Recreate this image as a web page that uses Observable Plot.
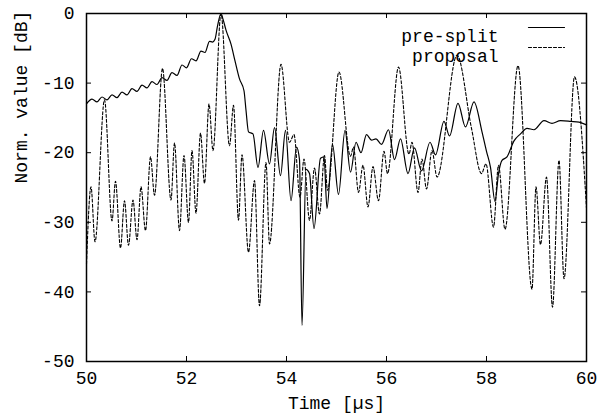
<!DOCTYPE html>
<html>
<head>
<meta charset="utf-8">
<script src="https://cdn.jsdelivr.net/npm/d3@7"></script>
<script src="https://cdn.jsdelivr.net/npm/@observablehq/plot@0.6"></script>
<style>
  html, body { margin: 0; padding: 0; background: #fff; }
  #chart { width: 610px; height: 418px; }
</style>
</head>
<body>
<div id="chart"></div>
<script>
// ---- tick definitions ----
const xTicks = [50, 52, 54, 56, 58, 60];
const xTickLabels = ["50", "52", "54", "56", "58", "60"];
const yTicks = [0, -10, -20, -30, -40, -50];
const yTickLabels = ["0", "-10", "-20", "-30", "-40", "-50"];
const xLabel = "Time [µs]";
const yLabel = "Norm. value [dB]";
const seriesNames = ["pre-split", "proposal"];

// ---- pre-split (solid) ----
const preSplitTime = [
  50.00, 50.11, 50.21, 50.31, 50.41, 50.51, 50.61, 50.71, 50.81, 50.91,
  51.01, 51.11, 51.21, 51.31, 51.41, 51.51, 51.61, 51.71, 51.81, 51.91,
  52.00, 52.10, 52.19, 52.29, 52.37, 52.46, 52.52, 52.57, 52.62, 52.69,
  52.73, 52.79, 52.89, 52.97, 53.06, 53.15, 53.19, 53.24, 53.33, 53.43,
  53.54, 53.66, 53.76, 53.88, 53.98, 54.09, 54.20, 54.26, 54.31, 54.39,
  54.46, 54.55, 54.68, 54.75, 54.81, 54.92, 55.04, 55.17, 55.28, 55.39,
  55.49, 55.60, 55.70, 55.79, 55.90, 56.04, 56.16, 56.28, 56.43, 56.56,
  56.70, 56.87, 56.98, 57.15, 57.26, 57.43, 57.58, 57.75, 57.91, 58.00,
  58.08, 58.17, 58.24, 58.31, 58.41, 58.55, 58.68, 58.81, 58.95, 59.15,
  59.31, 59.48, 59.69, 59.85, 60.00
];
const preSplitValue = [
  -13.0, -12.3, -12.7, -12.0, -12.4, -11.7, -12.1, -11.3, -11.7, -10.8,
  -11.2, -10.3, -10.7, -9.8, -10.2, -9.2, -9.6, -8.5, -8.9, -7.4,
  -7.8, -6.5, -6.8, -5.4, -5.6, -4.0, -4.1, -3.7, -1.8, 0.0,
  -0.8, -2.4, -4.4, -6.8, -9.4, -11.1, -13.9, -17.0, -17.3, -22.1,
  -16.8, -21.6, -16.4, -23.3, -16.8, -26.9, -19.2, -21.0, -44.8, -22.4,
  -23.0, -30.9, -20.8, -20.6, -28.0, -18.8, -26.0, -16.8, -22.8, -18.5,
  -20.0, -17.4, -18.2, -18.0, -18.8, -16.7, -21.0, -18.0, -23.0, -19.3,
  -22.6, -18.5, -20.3, -15.5, -17.6, -12.9, -16.3, -12.7, -17.0, -19.8,
  -22.1, -27.0, -23.0, -21.1, -20.6, -18.3, -17.3, -16.5, -16.7, -15.4,
  -15.8, -15.4, -15.5, -15.6, -16.0
];

// ---- proposal (dashed) ----
const proposalTime = [
  50.00, 50.09, 50.17, 50.36, 50.51, 50.58, 50.68, 50.76, 50.84, 50.93,
  51.01, 51.09, 51.18, 51.28, 51.36, 51.52, 51.69, 51.76, 51.86, 51.95,
  52.04, 52.11, 52.19, 52.28, 52.36, 52.45, 52.53, 52.69, 52.86, 52.94,
  53.04, 53.11, 53.24, 53.36, 53.46, 53.59, 53.66, 53.89, 54.06, 54.15,
  54.27, 54.35, 54.46, 54.56, 54.66, 54.76, 54.82, 55.05, 55.28, 55.34,
  55.44, 55.53, 55.63, 55.73, 55.84, 55.95, 56.02, 56.24, 56.45, 56.51,
  56.63, 56.71, 56.80, 56.91, 57.01, 57.41, 57.70, 57.90, 57.99, 58.14,
  58.24, 58.37, 58.63, 58.91, 58.99, 59.08, 59.20, 59.32, 59.45, 59.55,
  59.76, 60.00
];
const proposalValue = [
  -36.0, -24.9, -32.8, -12.4, -29.8, -24.1, -33.7, -26.9, -33.3, -26.8,
  -32.5, -24.9, -31.2, -20.6, -26.1, -7.9, -26.8, -18.6, -31.2, -20.4,
  -30.0, -19.7, -28.7, -17.2, -24.4, -13.0, -19.7, 0.0, -19.0, -13.2,
  -29.7, -20.3, -34.3, -24.0, -42.0, -21.4, -33.1, -7.3, -18.5, -17.4,
  -26.4, -20.9, -29.7, -22.2, -28.8, -20.4, -25.4, -8.4, -20.5, -19.2,
  -25.7, -21.8, -27.8, -22.0, -26.9, -19.8, -23.0, -7.7, -20.2, -18.5,
  -25.7, -20.9, -25.2, -19.7, -23.5, -6.0, -16.5, -23.0, -21.6, -30.7,
  -21.8, -31.0, -7.5, -39.6, -24.9, -33.2, -23.5, -42.2, -21.1, -38.1,
  -9.1, -28.0
];

const preSplit = preSplitTime.map((t, i) => ({t, v: preSplitValue[i]}));
const proposal = proposalTime.map((t, i) => ({t, v: proposalValue[i]}));

const font = "Liberation Mono, Courier New, DejaVu Sans Mono, monospace";
const fs = 18;
const lineShape = {draw(context, l) { context.moveTo(0, 0); context.lineTo(0, -l); }};

const chart = Plot.plot({
  width: 610,
  height: 418,
  marginLeft: 86,
  marginRight: 24,
  marginTop: 13,
  marginBottom: 57,
  x: {domain: [50, 60], axis: null},
  y: {domain: [-50, 0], axis: null},
  style: {fontFamily: font, fontSize: fs + "px", background: "white", color: "black"},
  marks: [
    // inward ticks on all four sides
    Plot.tickX(xTicks, {x: d => d, insetTop: 343, stroke: "black", strokeWidth: 1}),
    Plot.tickX(xTicks, {x: d => d, insetBottom: 343, stroke: "black", strokeWidth: 1}),
    Plot.tickY(yTicks, {y: d => d, insetRight: 495, stroke: "black", strokeWidth: 1}),
    Plot.tickY(yTicks, {y: d => d, insetLeft: 495, stroke: "black", strokeWidth: 1}),
    // tick labels
    Plot.text(xTicks, {x: d => d, text: (d, i) => xTickLabels[i], frameAnchor: "bottom", dy: 22, fontSize: fs, fill: "black"}),
    Plot.text(yTicks, {y: d => d, text: (d, i) => yTickLabels[i], frameAnchor: "left", dx: -12, textAnchor: "end", fontSize: fs, fill: "black"}),
    // axis titles
    Plot.text([xLabel], {text: d => d, frameAnchor: "bottom", dy: 47, fontSize: fs, fill: "black"}),
    Plot.text([yLabel], {text: d => d, frameAnchor: "left", dx: -65, dy: -4, rotate: -90, fontSize: fs, fill: "black"}),
    // data
    Plot.line(proposal, {x: "t", y: "v", stroke: "black", strokeWidth: 1.1, strokeDasharray: "3,2", curve: "monotone-x"}),
    Plot.line(preSplit, {x: "t", y: "v", stroke: "black", strokeWidth: 1.2, curve: "monotone-x"}),
    // legend
    Plot.text([seriesNames[0]], {text: d => d, frameAnchor: "top-right", dx: -88, dy: 16, textAnchor: "end", fontSize: fs, fill: "black"}),
    Plot.text([seriesNames[1]], {text: d => d, frameAnchor: "top-right", dx: -88, dy: 36, textAnchor: "end", fontSize: fs, fill: "black"}),
    Plot.vector([0], {frameAnchor: "top-right", dx: -58, dy: 14, length: 36, rotate: 90, anchor: "start", shape: lineShape, stroke: "black", strokeWidth: 1.2}),
    Plot.vector([0], {frameAnchor: "top-right", dx: -58, dy: 34, length: 36, rotate: 90, anchor: "start", shape: lineShape, stroke: "black", strokeWidth: 1.1, strokeDasharray: "3,2"}),
    Plot.frame({stroke: "black", strokeWidth: 1.5})
  ]
});
document.getElementById("chart").appendChild(chart);
</script>
</body>
</html>
